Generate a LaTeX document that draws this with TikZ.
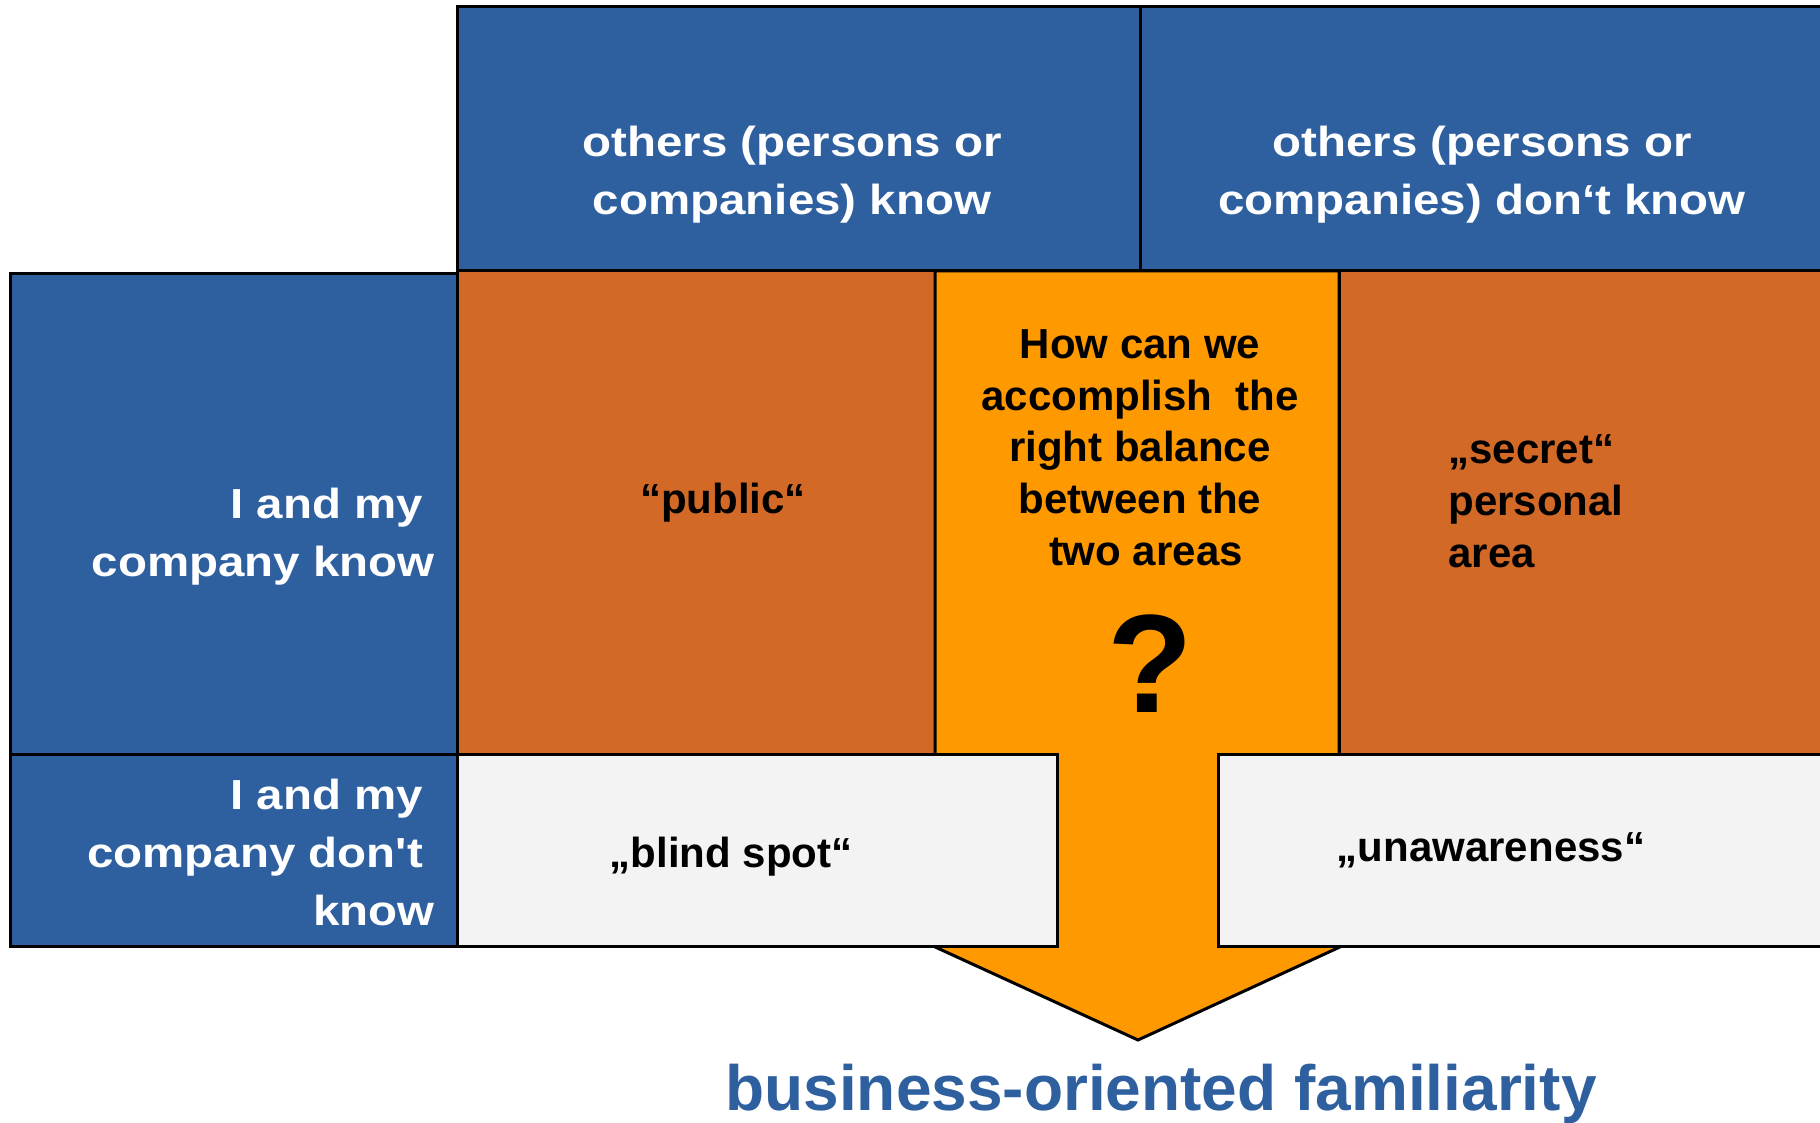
\documentclass[tikz,border=0pt]{standalone}
\usepackage{fontspec}
\setmainfont{Liberation Sans}
\newfontfamily\widesans[FakeStretch=1.13]{Liberation Sans}
\usepackage{tikz}
\definecolor{cellblue}{HTML}{2E5F9F}
\definecolor{areaorange}{HTML}{D36926}
\definecolor{arroworange}{HTML}{FF9900}
\definecolor{blankgrey}{HTML}{F3F3F3}

\begin{document}
\begin{tikzpicture}[x=0.5pt,y=-0.5pt,
    frame/.style={draw=black, line width=1.5pt},
    bluelabel/.style={text=white, inner sep=0pt,
        font=\widesans\bfseries\fontsize{21pt}{29pt}\selectfont},
    blacklabel/.style={text=black, inner sep=0pt,
        font=\bfseries\fontsize{21pt}{25.8pt}\selectfont}]
        \useasboundingbox (0,0) rectangle (1820,1123);
        \clip (0,0) rectangle (1820,1123);
        % column heads and row heads
        \foreach \xa/\xb in {457/1140,1140/1830}{
            \fill[cellblue,frame](\xa,7) rectangle (\xb,271);
        }
        \foreach \ya/\yb in {274/754,754/946}{
            \fill[cellblue,frame](10,\ya) rectangle (457,\yb);
        }
        % the two known areas
        \fill[areaorange,frame](457,271) rectangle (935,754);
        \fill[areaorange,frame](1339,271) rectangle (1830,754);
        % the arrow down the middle
        \fill[arroworange,frame,line join=miter](935,271)--(1339,271)--(1339,946)--(1342,946)
            --(1138,1040)--(933,946)--(935,946)--cycle;
        % the two unknown areas
        \fill[blankgrey,frame](457,754) rectangle (1057,946);
        \fill[blankgrey,frame](1218,754) rectangle (1830,946);

        % multi-line labels sit on the baseline of their last line
        \node[bluelabel, align=center, anchor=base] (headknow) at (792,215)
            {others (persons or\\companies) know};
        \node[bluelabel, align=center, anchor=base] (headdont) at (1482,215)
            {others (persons or\\companies) don‘t know};
        \node[bluelabel, align=right, anchor=base east] (rowknow) at (435,576)
            {I and my\rule{0.28em}{0pt}\\company know};
        \node[bluelabel, align=right, anchor=base east] (rowdont) at (435,925)
            {I and my\rule{0.28em}{0pt}\\company don't\rule{0.28em}{0pt}\\know};

        \node[blacklabel, anchor=base] (public) at (723,513) {“public“};
        \node[blacklabel, align=left, anchor=base west] (secret) at (1448,567)
            {„secret“\\personal\\area};
        \node[blacklabel, anchor=base] (blind) at (731,867) {„blind spot“};
        \node[blacklabel, anchor=base] (unaware) at (1491,861) {„unawareness“};
        \node[blacklabel, align=center, anchor=base] (question) at (1140,565)
            {How can we\\accomplish\ \ the\\right balance\\between the\\\rule{0.28em}{0pt}two areas};
        \node[blacklabel, anchor=base, font=\bfseries\fontsize{70pt}{70pt}\selectfont] (qmark) at (1150,712) {?};

        \node[anchor=base, inner sep=0pt, text=cellblue,
            font=\bfseries\fontsize{32pt}{36pt}\selectfont] (title) at (1161,1110)
            {business-oriented familiarity};
    \end{tikzpicture}
\end{document}
